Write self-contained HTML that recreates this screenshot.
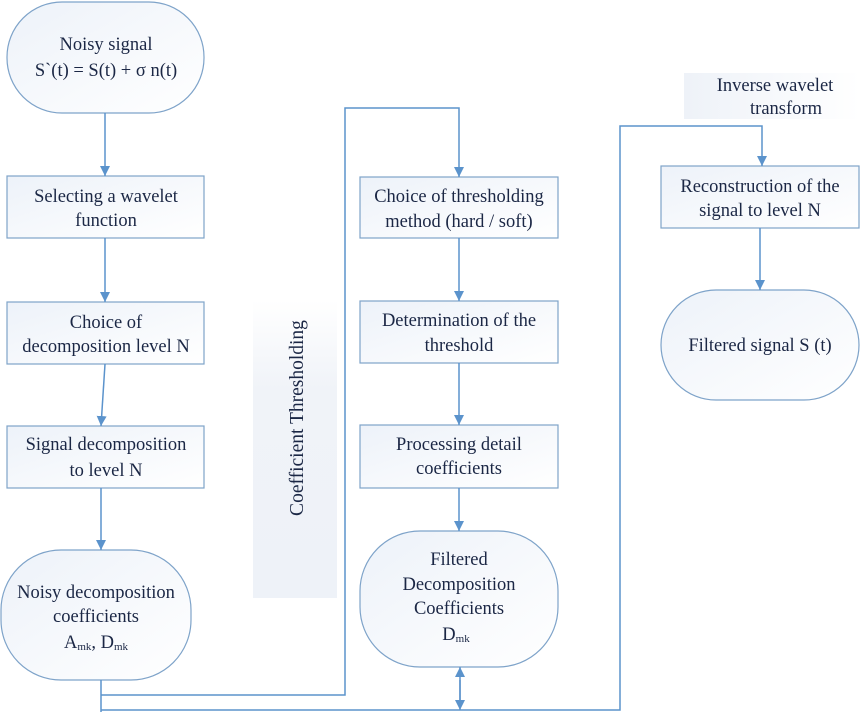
<!DOCTYPE html>
<html><head><style>body{margin:0;background:#fff}
svg text{font-family:"Liberation Serif","Times New Roman",Times,serif;}
</style></head><body>
<svg width="860" height="712" xmlns="http://www.w3.org/2000/svg" font-size="18.5" fill="#1b2745">
<defs>
<linearGradient id="g" x1="0" y1="0" x2="1" y2="1"><stop offset="0" stop-color="#edf2f9"/><stop offset="1" stop-color="#ffffff"/></linearGradient>
<linearGradient id="gv" x1="0" y1="0" x2="0" y2="1"><stop offset="0" stop-color="#fff"/><stop offset="0.3" stop-color="#f0f3f8"/><stop offset="1" stop-color="#eef2f8"/></linearGradient>
<linearGradient id="gh" x1="0" y1="0" x2="1" y2="0"><stop offset="0" stop-color="#eef2f8"/><stop offset="1" stop-color="#fff"/></linearGradient>
<marker id="a" markerWidth="10" markerHeight="10" refX="10" refY="5" orient="auto" markerUnits="userSpaceOnUse"><path d="M0,0 L10,5 L0,10z" fill="#5b93cc"/></marker>
</defs>
<rect x="253" y="300" width="84" height="298" fill="url(#gv)"/>
<rect x="684" y="73" width="176" height="46" fill="url(#gh)"/>
<g stroke="#7ea3c9" stroke-width="1.2" fill="url(#g)">
<rect x="7" y="2" width="197" height="111" rx="55"/>
<rect x="7" y="176" width="197" height="62"/>
<rect x="7" y="302" width="197" height="62"/>
<rect x="7" y="426" width="197" height="62"/>
<rect x="1" y="550" width="190" height="130" rx="60"/>
<rect x="360" y="177" width="198" height="61"/>
<rect x="360" y="301" width="198" height="62"/>
<rect x="360" y="425" width="198" height="63"/>
<rect x="360" y="531" width="198" height="136" rx="60"/>
<rect x="661" y="166" width="198" height="62"/>
<rect x="661" y="290" width="198" height="110" rx="55"/>
</g>
<g stroke="#5b93cc" stroke-width="1.5" fill="none">
<line x1="105" y1="113" x2="105" y2="176" marker-end="url(#a)"/>
<line x1="105" y1="238" x2="105" y2="302" marker-end="url(#a)"/>
<line x1="105" y1="364" x2="101" y2="426" marker-end="url(#a)"/>
<line x1="101" y1="488" x2="101" y2="550" marker-end="url(#a)"/>
<polyline points="101,680 101,712"/>
<polyline points="101,695 345,695 345,108 459,108 459,177" marker-end="url(#a)"/>
<line x1="459" y1="238" x2="459" y2="301" marker-end="url(#a)"/>
<line x1="459" y1="363" x2="459" y2="425" marker-end="url(#a)"/>
<line x1="459" y1="488" x2="459" y2="531" marker-end="url(#a)"/>
<polyline points="101,710 620,710 620,126 762,126 762,166" marker-end="url(#a)"/>
<line x1="460" y1="680" x2="460" y2="710" marker-end="url(#a)"/>
<line x1="460" y1="700" x2="460" y2="667" marker-end="url(#a)"/>
<line x1="760" y1="228" x2="760" y2="290" marker-end="url(#a)"/>
</g>
<g text-anchor="middle">
<text x="106" y="50">Noisy signal</text>
<text x="106" y="76">S`(t) = S(t) + σ n(t)</text>
<text x="106" y="202">Selecting a wavelet</text>
<text x="106" y="226">function</text>
<text x="106" y="328">Choice of</text>
<text x="106" y="352">decomposition level N</text>
<text x="106" y="450">Signal decomposition</text>
<text x="106" y="476">to level N</text>
<text x="96" y="598">Noisy decomposition</text>
<text x="96" y="622">coefficients</text>
<text x="96" y="648">A<tspan font-size="11" dy="2">mk</tspan><tspan dy="-2">, D</tspan><tspan font-size="11" dy="2">mk</tspan></text>
<text x="459" y="202">Choice of thresholding</text>
<text x="459" y="227">method (hard / soft)</text>
<text x="459" y="326">Determination of the</text>
<text x="459" y="351">threshold</text>
<text x="459" y="450">Processing detail</text>
<text x="459" y="474">coefficients</text>
<text x="459" y="565">Filtered</text>
<text x="459" y="590">Decomposition</text>
<text x="459" y="614">Coefficients</text>
<text x="456" y="640">D<tspan font-size="11" dy="2">mk</tspan></text>
<text x="760" y="192">Reconstruction of the</text>
<text x="760" y="216">signal to level N</text>
<text x="760" y="351">Filtered signal S (t)</text>
<text x="775" y="91">Inverse wavelet</text>
<text x="786" y="114">transform</text>
<text transform="translate(303,418) rotate(-90)" font-size="19.5">Coefficient  Thresholding</text>
</g>
</svg>
</body></html>
